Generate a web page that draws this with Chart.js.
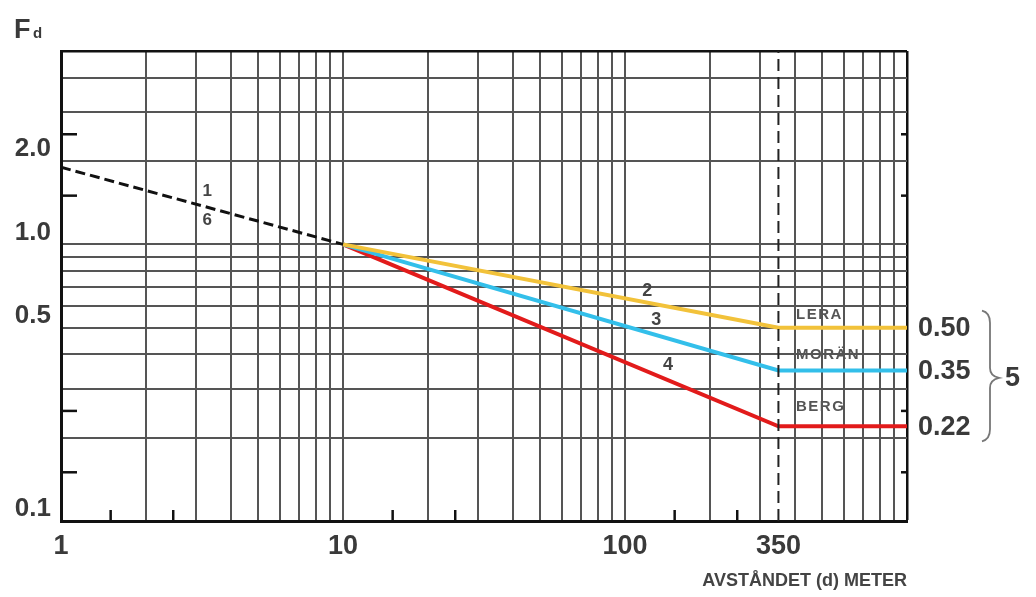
<!DOCTYPE html>
<html>
<head>
<meta charset="utf-8">
<script src="https://cdn.jsdelivr.net/npm/chart.js@4"></script>
<style>
  html, body { margin: 0; padding: 0; background: #fff; }
  #wrap { width: 1036px; height: 597px; position: relative; }
</style>
</head>
<body>
<div id="wrap"><canvas id="fdChart"></canvas></div>
<script>
// distance (m) and Fd values
const nearDist = [1, 10];
const nearFd = [1.9, 1.0];          // curve 1 / 6 (dashed)
const soilDist = [10, 350, 1000];
const leraFd = [1.0, 0.50, 0.50];   // curve 2
const moranFd = [1.0, 0.35, 0.35];  // curve 3
const bergFd = [1.0, 0.22, 0.22];   // curve 4
const limitDist = [350, 350];
const limitFd = [0.1, 5];

const xGrid = [1, 2, 3, 4, 5, 6, 7, 8, 9, 10, 20, 30, 40, 50, 60, 70, 80, 90,
               100, 200, 300, 400, 500, 600, 700, 800, 900, 1000];
const xLabelled = [1, 10, 100, 350];
const yGrid = [0.1, 0.2, 0.3, 0.4, 0.5, 0.6, 0.7, 0.8, 0.9, 1, 2, 3, 4, 5];
const yLabels = { 0.1: '0.1', 0.5: '0.5', 1: '1.0', 2: '2.0' };
const xMinor = [1.5, 2.5, 15, 25, 150, 250];
const yMinor = [0.15, 0.25, 1.5, 2.5];

// curve annotations in data coordinates
const curveNotes = [
  { text: '1', x: 3.3, y: 1.56, size: 17 },
  { text: '6', x: 3.3, y: 1.22, size: 17 },
  { text: '2', x: 120, y: 0.676, size: 18 },
  { text: '3', x: 129, y: 0.533, size: 18 },
  { text: '4', x: 142, y: 0.366, size: 18 }
];
const soilNotes = [
  { text: 'LERA', x: 404, y: 0.555 },
  { text: 'MORÄN', x: 404, y: 0.40 },
  { text: 'BERG', x: 404, y: 0.258 }
];

const FONT = "'Liberation Sans', Arial, sans-serif";
const pts = (xs, ys) => xs.map((v, i) => ({ x: v, y: ys[i] }));

const extras = {
  id: 'extras',
  afterDatasetsDraw(chart) {
    const { ctx, chartArea: a, scales: { x, y } } = chart;
    const line = (x1, y1, x2, y2) => { ctx.beginPath(); ctx.moveTo(x1, y1); ctx.lineTo(x2, y2); ctx.stroke(); };
    ctx.save();

    // short minor tick marks inside the frame
    ctx.strokeStyle = '#111';
    ctx.lineWidth = 2.5;
    xMinor.forEach(v => { const px = x.getPixelForValue(v); line(px, a.bottom, px, a.bottom - 11); });
    yMinor.forEach(v => {
      const py = y.getPixelForValue(v);
      line(a.left, py, a.left + 16, py);
      line(a.right, py, a.right - 6, py);
    });

    ctx.textBaseline = 'middle';
    ctx.fillStyle = '#444';
    ctx.textAlign = 'center';
    curveNotes.forEach(n => {
      ctx.font = 'bold ' + n.size + 'px ' + FONT;
      ctx.fillText(n.text, x.getPixelForValue(n.x), y.getPixelForValue(n.y));
    });

    ctx.textAlign = 'left';
    ctx.fillStyle = '#555';
    ctx.font = 'bold 15px ' + FONT;
    ctx.letterSpacing = '1.5px';
    soilNotes.forEach(n => ctx.fillText(n.text, x.getPixelForValue(n.x), y.getPixelForValue(n.y)));
    ctx.letterSpacing = '0px';

    // end values at the right side
    ctx.fillStyle = '#3a3a3a';
    ctx.font = 'bold 27px ' + FONT;
    const ends = [leraFd, moranFd, bergFd].map(s => s[s.length - 1]);
    ends.forEach(v => ctx.fillText(v.toFixed(2), a.right + 11, y.getPixelForValue(v) + 1));

    // brace + 5
    const top = y.getPixelForValue(ends[0]) - 17;
    const bot = y.getPixelForValue(ends[2]) + 15;
    const mid = (top + bot) / 2 + 2;
    const bx = a.right + 80;
    ctx.strokeStyle = '#777';
    ctx.lineWidth = 1.8;
    ctx.beginPath();
    ctx.moveTo(bx - 5, top);
    ctx.quadraticCurveTo(bx + 3, top + 2, bx + 3, top + 12);
    ctx.lineTo(bx + 3, mid - 10);
    ctx.quadraticCurveTo(bx + 3, mid - 2, bx + 12, mid);
    ctx.quadraticCurveTo(bx + 3, mid + 2, bx + 3, mid + 10);
    ctx.lineTo(bx + 3, bot - 12);
    ctx.quadraticCurveTo(bx + 3, bot - 2, bx - 5, bot);
    ctx.stroke();
    ctx.fillStyle = '#3a3a3a';
    ctx.font = 'bold 27px ' + FONT;
    ctx.fillText('5', bx + 18, mid + 1);

    // axis name Fd
    ctx.textBaseline = 'alphabetic';
    ctx.font = 'bold 27px ' + FONT;
    ctx.fillStyle = '#3a3a3a';
    ctx.fillText('F', 14, 38);
    ctx.font = 'bold 15px ' + FONT;
    ctx.fillText('d', 33, 38);
    ctx.restore();
  }
};

new Chart(document.getElementById('fdChart'), {
  type: 'scatter',
  data: {
    datasets: [
      { data: pts(nearDist, nearFd), showLine: true, borderColor: '#111', borderWidth: 3, borderDash: [10, 5] },
      { data: pts(limitDist, limitFd), showLine: true, borderColor: '#222', borderWidth: 2, borderDash: [12, 6] },
      { data: pts(soilDist, leraFd), showLine: true, borderColor: '#f2c23a', borderWidth: 4 },
      { data: pts(soilDist, moranFd), showLine: true, borderColor: '#33bfea', borderWidth: 4 },
      { data: pts(soilDist, bergFd), showLine: true, borderColor: '#e21b1b', borderWidth: 4 }
    ]
  },
  options: {
    responsive: true,
    maintainAspectRatio: false,
    animation: false,
    elements: { point: { radius: 0, hoverRadius: 0 } },
    layout: { padding: { top: 51, right: 129, left: 0, bottom: 0 } },
    plugins: { legend: { display: false }, tooltip: { enabled: false } },
    scales: {
      x: {
        type: 'logarithmic',
        min: 1,
        max: 1000,
        afterBuildTicks: s => { s.ticks = xGrid.concat(350).sort((p, q) => p - q).map(v => ({ value: v })); },
        afterFit: s => { s.height = 76; },
        grid: {
          drawTicks: false,
          color: c => c.tick.value === 350 ? 'rgba(0,0,0,0)' : (c.tick.value === 1000 ? '#111' : '#555'),
          lineWidth: c => c.tick.value === 1000 ? 2.5 : 2
        },
        border: { color: '#111', width: 3 },
        ticks: {
          autoSkip: false,
          maxRotation: 0,
          padding: 9,
          color: '#3a3a3a',
          font: { family: FONT, size: 27, weight: 'bold' },
          callback: v => xLabelled.includes(v) ? String(v) : ''
        },
        title: {
          display: true,
          text: 'AVSTÅNDET (d) METER',
          align: 'end',
          color: '#444',
          font: { family: FONT, size: 18, weight: 'bold' },
          padding: { top: 0, bottom: 5 }
        }
      },
      y: {
        type: 'logarithmic',
        min: 0.1,
        max: 5,
        afterBuildTicks: s => { s.ticks = yGrid.map(v => ({ value: v })); },
        afterFit: s => { s.width = 61; },
        grid: {
          drawTicks: false,
          color: c => c.tick.value === 5 ? '#111' : '#555',
          lineWidth: c => c.tick.value === 5 ? 2.5 : 2
        },
        border: { color: '#111', width: 3 },
        ticks: {
          autoSkip: false,
          padding: 10,
          labelOffset: -12,
          color: '#3a3a3a',
          font: { family: FONT, size: 26, weight: 'bold' },
          callback: v => yLabels[v] || ''
        }
      }
    }
  },
  plugins: [extras]
});
</script>
</body>
</html>
